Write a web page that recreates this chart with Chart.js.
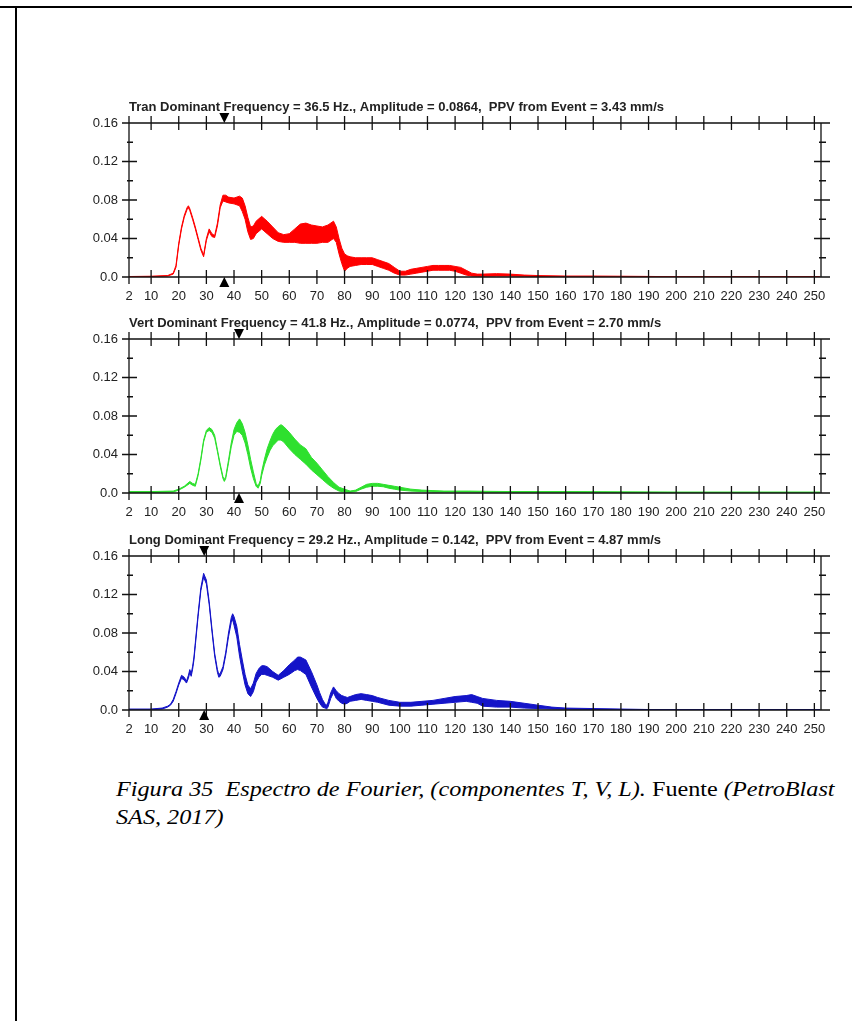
<!DOCTYPE html>
<html>
<head>
<meta charset="utf-8">
<script src="https://cdn.jsdelivr.net/npm/chart.js@4/dist/chart.umd.min.js"></script>
<style>
  body { margin: 0; background: #fff; width: 852px; height: 1021px; position: relative; overflow: hidden; }
  .topline { position: absolute; left: 0; top: 6px; width: 852px; height: 2px; background: #000; }
  .leftline { position: absolute; left: 15px; top: 7px; width: 1.5px; height: 1014px; background: #000; }
  canvas { position: absolute; left: 60px; }
  .caption { position: absolute; left: 116px; top: 775px; width: 660px; font-family: "Liberation Serif", "Times New Roman", serif; font-size: 22px; line-height: 28px; color: #000; transform: scaleX(1.1); transform-origin: 0 0; }
  .caption i { font-style: italic; }
</style>
</head>
<body>
<div class="topline"></div>
<div class="leftline"></div>
<canvas id="tran" width="790" height="214" style="top:93px"></canvas>
<canvas id="vert" width="790" height="214" style="top:309px"></canvas>
<canvas id="long" width="790" height="214" style="top:526px"></canvas>
<div class="caption"><i>Figura 35&nbsp; Espectro de Fourier, (componentes T, V, L).</i> Fuente <i>(PetroBlast<br>SAS, 2017)</i></div>
<script>
// axes
var xTicks = [2, 10, 20, 30, 40, 50, 60, 70, 80, 90, 100, 110, 120, 130, 140, 150, 160, 170, 180, 190, 200, 210, 220, 230, 240, 250];
var yTicks = [0, 0.04, 0.08, 0.12, 0.16];
var yMinor = [0.02, 0.06, 0.10, 0.14];

// Tran (red) - upper / lower edge of the noisy band
var tranFreq = [2,10,16,18,19,20,21,22,23,23.5,
  24,25,26,27,28,29,30,31,32,33,
  34,35,36,37,38,40,42,43,44,45,
  46,47,48,50,52,54,56,58,60,62,
  64,66,68,70,72,74,76,77,78,79,
  80,81,82,84,86,88,90,92,94,96,
  98,100,102,104,106,108,110,112,114,116,
  118,120,122,124,126,128,130,135,140,145,
  150,160,170,180,190,200,252];
var tranHi = [.0005,.0008,.0015,.004,.012,.035,.052,.064,.072,.074,
  .071,.062,.052,.041,.030,.023,.040,.050,.045,.043,
  .056,.075,.085,.085,.083,.082,.084,.082,.074,.062,
  .052,.053,.058,.063,.058,.052,.046,.044,.045,.050,
  .055,.056,.054,.053,.052,.054,.058,.052,.040,.030,
  .024,.022,.021,.020,.020,.020,.020,.018,.016,.014,
  .010,.006,.006,.008,.009,.010,.011,.012,.012,.012,
  .012,.011,.010,.007,.004,.003,.003,.0035,.003,.002,
  .0015,.001,.001,.0008,.0006,.0003,.0003];
var tranLo = [.0002,.0005,.001,.003,.010,.033,.050,.062,.070,.072,
  .069,.060,.050,.039,.028,.021,.038,.047,.042,.041,
  .053,.072,.079,.078,.077,.076,.074,.068,.060,.047,
  .039,.040,.045,.050,.045,.040,.037,.036,.036,.036,
  .035,.035,.035,.035,.036,.036,.040,.036,.024,.014,
  .006,.009,.011,.012,.013,.013,.013,.011,.009,.007,
  .004,.002,.002,.003,.004,.005,.006,.007,.007,.007,
  .007,.006,.004,.002,.001,.0008,.0008,.001,.001,.0008,
  .0005,.0004,.0004,.0003,.0002,.0002,.0002];

// Vert (green)
var vertFreq = [2,10,18,20,22,24,25,26,27,28,
  29,30,31,32,33,34,35,36,36.5,37,
  38,39,40,41,42,43,44,45,46,47,
  48,48.7,49.5,50,51,52,53,54,55,56,
  57,58,60,62,64,66,68,70,72,74,
  76,78,80,82,84,86,88,90,92,94,
  96,98,100,104,108,112,116,120,125,130,
  140,150,160,180,200,252];
var vertHi = [.0015,.0015,.002,.004,.007,.012,.010,.009,.020,.036,
  .055,.065,.068,.066,.060,.045,.030,.017,.014,.017,
  .034,.052,.066,.073,.077,.072,.063,.050,.035,.022,
  .010,.007,.013,.022,.035,.046,.054,.061,.066,.069,
  .071,.069,.063,.056,.050,.046,.037,.031,.024,.017,
  .011,.006,.004,.002,.003,.006,.009,.010,.010,.009,
  .008,.007,.006,.004,.003,.0025,.002,.002,.002,.0018,
  .0015,.0015,.0015,.0012,.001,.001];
var vertLo = [.0005,.0005,.001,.003,.006,.010,.008,.007,.018,.034,
  .053,.063,.065,.063,.057,.043,.028,.015,.012,.015,
  .031,.048,.060,.064,.063,.060,.052,.040,.026,.015,
  .007,.005,.010,.018,.029,.037,.044,.049,.052,.055,
  .055,.053,.046,.040,.035,.030,.024,.019,.014,.009,
  .005,.002,.001,.0008,.0015,.004,.006,.007,.007,.0065,
  .005,.004,.003,.002,.0015,.001,.001,.001,.001,.0008,
  .0008,.0008,.0008,.0006,.0005,.0005];

// Long (blue)
var longFreq = [2,10,14,16,17,18,19,20,21,22,
  22.8,23.5,24,24.5,25,25.5,26,27,28,29,
  30,31,32,33,34,34.5,35,36,37,38,
  39,39.5,40,41,42,43,44,45,46,47,
  48,49,50,51,52,54,56,58,60,62,
  63,64,66,68,70,71,72,73,73.5,74,
  75,76,77,78,79,80,81,82,84,86,
  88,90,92,96,100,104,108,112,116,120,
  124,126,128,130,135,140,145,150,155,160,
  170,180,190,252];
var longHi = [.001,.001,.002,.004,.006,.011,.019,.028,.036,.034,
  .030,.036,.042,.038,.045,.055,.070,.100,.127,.142,
  .135,.113,.085,.059,.042,.037,.038,.045,.060,.080,
  .096,.100,.097,.087,.068,.052,.037,.026,.022,.028,
  .038,.043,.046,.046,.045,.040,.036,.041,.047,.052,
  .055,.055,.052,.040,.026,.018,.011,.006,.005,.008,
  .018,.024,.020,.017,.015,.014,.013,.014,.016,.017,
  .016,.015,.013,.010,.008,.008,.009,.010,.012,.014,
  .015,.016,.014,.012,.010,.009,.007,.005,.003,.002,
  .0015,.001,.0005,.0005];
var longLo = [.0003,.0003,.001,.003,.005,.009,.017,.026,.033,.031,
  .028,.033,.039,.035,.042,.052,.067,.097,.124,.138,
  .131,.110,.082,.056,.039,.034,.035,.042,.057,.076,
  .091,.094,.088,.076,.056,.040,.026,.017,.014,.019,
  .029,.034,.037,.037,.036,.034,.031,.034,.037,.041,
  .042,.041,.037,.024,.012,.007,.003,.002,.001,.003,
  .012,.018,.012,.009,.007,.006,.007,.009,.010,.011,
  .010,.009,.008,.005,.004,.004,.005,.006,.007,.008,
  .009,.008,.007,.004,.003,.003,.002,.0015,.001,.0008,
  .0006,.0005,.0003,.0003];

// frame with crossing ticks, dominant frequency markers and the header line
var framePlugin = {
  id: 'frame',
  afterDatasetsDraw: function (chart, args, opts) {
    var ctx = chart.ctx, a = chart.chartArea, x = chart.scales.x, y = chart.scales.y;
    ctx.save();
    ctx.strokeStyle = '#111';
    ctx.lineWidth = 1.3;
    ctx.beginPath();
    ctx.rect(a.left, a.top, a.right - a.left, a.bottom - a.top);
    xTicks.forEach(function (v) {
      var px = x.getPixelForValue(v);
      ctx.moveTo(px, a.top - 7); ctx.lineTo(px, a.top + 7);
      ctx.moveTo(px, a.bottom - 7); ctx.lineTo(px, a.bottom + 7);
    });
    yTicks.forEach(function (v) {
      var py = y.getPixelForValue(v);
      ctx.moveTo(a.left - 7, py); ctx.lineTo(a.left + 8, py);
      ctx.moveTo(a.right - 7, py); ctx.lineTo(a.right + 9, py);
    });
    yMinor.forEach(function (v) {
      var py = y.getPixelForValue(v);
      ctx.moveTo(a.left - 2, py); ctx.lineTo(a.left + 4, py);
      ctx.moveTo(a.right - 2, py); ctx.lineTo(a.right + 5, py);
    });
    ctx.stroke();

    var tx = x.getPixelForValue(opts.dom);
    ctx.fillStyle = '#000';
    ctx.beginPath();
    ctx.moveTo(tx - 5, a.top - 10); ctx.lineTo(tx + 5, a.top - 10); ctx.lineTo(tx, a.top);
    ctx.closePath(); ctx.fill();
    ctx.beginPath();
    ctx.moveTo(tx - 5, a.bottom + 10); ctx.lineTo(tx + 5, a.bottom + 10); ctx.lineTo(tx, a.bottom);
    ctx.closePath(); ctx.fill();

    ctx.font = 'bold 13px Arial, "Liberation Sans", sans-serif';
    ctx.fillStyle = '#222';
    ctx.textAlign = 'left';
    ctx.textBaseline = 'alphabetic';
    ctx.fillText(opts.title, a.left, a.top - 12);
    ctx.restore();
  }
};

function pts(freq, vals) {
  return freq.map(function (f, i) { return { x: f, y: vals[i] }; });
}

function makeChart(id, freq, hi, lo, color, dom, title) {
  return new Chart(document.getElementById(id), {
    type: 'line',
    data: {
      datasets: [
        { data: pts(freq, hi), borderColor: color, backgroundColor: color, borderWidth: 1, pointRadius: 0, tension: 0, fill: '+1' },
        { data: pts(freq, lo), borderColor: color, backgroundColor: color, borderWidth: 1, pointRadius: 0, tension: 0, fill: false }
      ]
    },
    options: {
      responsive: false,
      animation: false,
      layout: { padding: { top: 30, right: 29, left: 0, bottom: 0 } },
      plugins: {
        legend: { display: false },
        tooltip: { enabled: false },
        frame: { dom: dom, title: title }
      },
      scales: {
        x: {
          type: 'linear', min: 2, max: 252.4,
          grid: { display: false, drawTicks: false },
          border: { display: false },
          afterBuildTicks: function (s) { s.ticks = xTicks.map(function (v) { return { value: v }; }); },
          afterFit: function (s) { s.height = 30; },
          ticks: { padding: 12, color: '#222', maxRotation: 0, autoSkip: false,
                   font: { family: 'Arial, "Liberation Sans", sans-serif', size: 13 },
                   callback: function (v) { return String(v); } }
        },
        y: {
          min: 0, max: 0.16,
          grid: { display: false, drawTicks: false },
          border: { display: false },
          afterBuildTicks: function (s) { s.ticks = yTicks.map(function (v) { return { value: v }; }); },
          afterFit: function (s) { s.width = 69; },
          ticks: { padding: 11, color: '#222',
                   font: { family: 'Arial, "Liberation Sans", sans-serif', size: 13 },
                   callback: function (v) { return v === 0 ? '0.0' : v.toFixed(2); } }
        }
      }
    },
    plugins: [framePlugin]
  });
}

makeChart('tran', tranFreq, tranHi, tranLo, '#ff0000', 36.5,
  'Tran Dominant Frequency = 36.5 Hz., Amplitude = 0.0864,  PPV from Event = 3.43 mm/s');
makeChart('vert', vertFreq, vertHi, vertLo, '#2ee02e', 41.8,
  'Vert Dominant Frequency = 41.8 Hz., Amplitude = 0.0774,  PPV from Event = 2.70 mm/s');
makeChart('long', longFreq, longHi, longLo, '#1414c8', 29.2,
  'Long Dominant Frequency = 29.2 Hz., Amplitude = 0.142,  PPV from Event = 4.87 mm/s');
</script>
</body>
</html>
